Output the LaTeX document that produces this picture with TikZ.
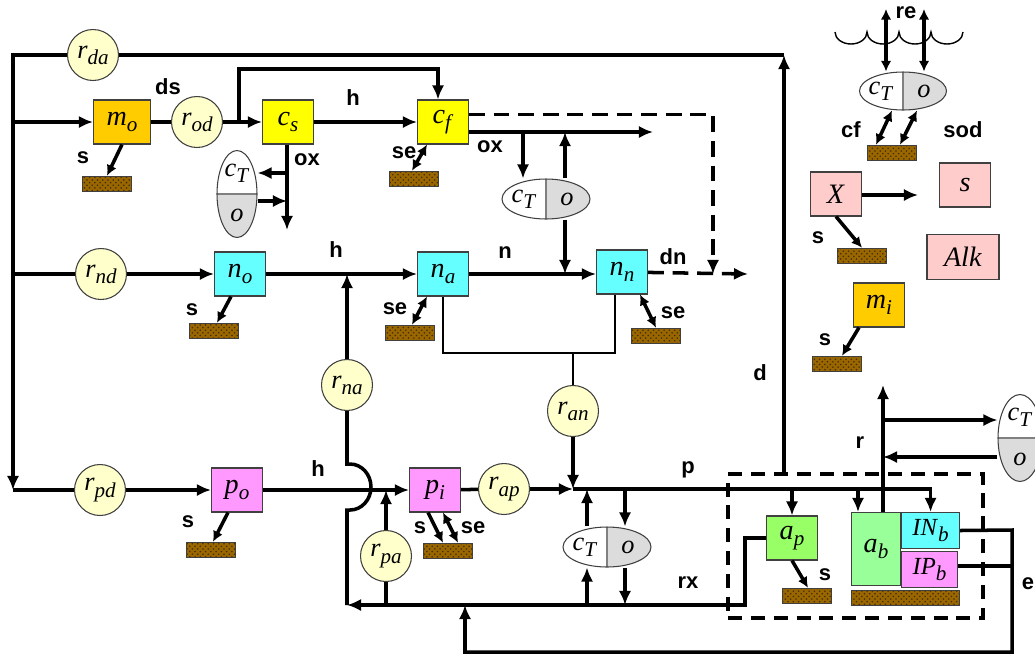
\documentclass[tikz,border=0pt]{standalone}
\usepackage{fontspec}
\setmainfont{Liberation Serif}
\newfontfamily\lblfont{Liberation Sans}
\usetikzlibrary{arrows.meta,positioning,shapes.geometric,patterns}
\definecolor{moorange}{RGB}{255,204,0}
\definecolor{cyellow}{RGB}{255,255,0}
\definecolor{ncyan}{RGB}{102,255,255}
\definecolor{ppink}{RGB}{255,153,255}
\definecolor{apgreen}{RGB}{153,255,102}
\definecolor{abgreen}{RGB}{153,255,153}
\definecolor{xrose}{RGB}{255,204,204}
\definecolor{ratefill}{RGB}{255,255,204}
\definecolor{sedbrown}{RGB}{153,102,0}
\definecolor{cellgray}{RGB}{220,220,220}
\newcommand\vsub[2]{\textit{#1}\raisebox{-0.5ex}{\fontsize{12}{13}\selectfont\textit{#2}}}

\begin{document}
\begin{tikzpicture}[
    x=0.02cm, y=-0.02cm,
    >={Latex[length=8pt,width=7pt]},
    flow/.style={line width=2pt},
    dashflow/.style={line width=2pt, dash pattern=on 9pt off 5pt},
    sedflux/.style={line width=2pt, -{Latex[length=6pt,width=6pt]}},
    seflux/.style={line width=2pt, {Latex[length=6pt,width=6pt]}-{Latex[length=6pt,width=6pt]}},
    box/.style={
        rectangle,
        draw=black!75,
        line width=0.6pt,
        minimum width=1.02cm,
        minimum height=0.88cm,
        inner sep=1pt,
        font=\fontsize{16}{18}\selectfont
    },
    rate/.style={circle, draw=black!75, line width=0.6pt, fill=ratefill,
        minimum size=1.02cm, inner sep=0pt, font=\fontsize{15}{17}\selectfont},
    sed/.style={rectangle, draw=black!75, line width=0.6pt, preaction={fill=sedbrown},
        pattern=crosshatch dots, pattern color=sedbrown!45!black,
        minimum width=0.98cm, minimum height=0.31cm, inner sep=0pt},
    lbl/.style={font=\lblfont\bfseries\fontsize{12.5}{14}\selectfont, inner sep=0pt},
    cellh/.style={ellipse, draw=black!75, line width=0.6pt, fill=white,
        minimum width=1.76cm, minimum height=0.8cm, inner sep=0pt,
        path picture={
            \fill[cellgray] (path picture bounding box.north) rectangle (path picture bounding box.south east);
            \draw[black!50, line width=0.7pt] (path picture bounding box.north) -- (path picture bounding box.south);}},
    cellv/.style={ellipse, draw=black!75, line width=0.6pt, fill=white,
        minimum width=0.8cm, minimum height=1.74cm, inner sep=0pt,
        path picture={
            \fill[cellgray] (path picture bounding box.west) rectangle (path picture bounding box.south east);
            \draw[black!50, line width=0.7pt] (path picture bounding box.west) -- (path picture bounding box.east);}},
    celltxt/.style={font=\fontsize{15}{17}\selectfont, inner sep=0pt}
]
\useasboundingbox (0,0) rectangle (1035,657);

% rates
\node[rate] (rda) at (93,55) {\vsub{r}{da}};
\node[rate] (rod) at (197,122) {\vsub{r}{od}};
\node[rate] (rnd) at (101,274) {\vsub{r}{nd}};
\node[rate] (rna) at (347,385) {\vsub{r}{na}};
\node[rate] (ran) at (573,411) {\vsub{r}{an}};
\node[rate] (rpd) at (100,490) {\vsub{r}{pd}};
\node[rate] (rap) at (504,489) {\vsub{r}{ap}};
\node[rate] (rpa) at (386,556) {\vsub{r}{pa}};

% pools
\node[box, fill=moorange, minimum width=1.14cm] (mo) at (122,122) {\vsub{m}{o}};
\node[box, fill=cyellow] (cs) at (288,122) {\vsub{c}{s}};
\node[box, fill=cyellow] (cf) at (443,122) {\vsub{c}{f}};
\node[box, fill=ncyan] (no) at (240,274) {\vsub{n}{o}};
\node[box, fill=ncyan] (na) at (443,274) {\vsub{n}{a}};
\node[box, fill=ncyan] (nn) at (622,272) {\vsub{n}{n}};
\node[box, fill=ppink] (po) at (237,490) {\vsub{p}{o}};
\node[box, fill=ppink] (pi) at (435,490) {\vsub{p}{i}};
\node[box, fill=apgreen] (ap) at (792,538) {\vsub{a}{p}};
\node[box, fill=abgreen, minimum width=0.98cm, minimum height=1.46cm] (ab) at (876,549) {\vsub{a}{b}};
\node[box, fill=ncyan, minimum width=1.16cm, minimum height=0.72cm, anchor=north west,
      font=\fontsize{14}{16}\selectfont] (INb) at (ab.north east) {\vsub{IN}{b}};
\node[box, fill=ppink, minimum width=1.12cm, minimum height=0.72cm, anchor=north west,
      font=\fontsize{14}{16}\selectfont] (IPb) at ([yshift=-1pt]INb.south west) {\vsub{IP}{b}};
\node[box, fill=xrose] (X) at (836,194) {\textit{X}};
\node[box, fill=xrose] (sbox) at (965,185) {\textit{s}};
\node[box, fill=xrose, minimum width=1.44cm, minimum height=0.9cm] (alk) at (963,257) {\textit{Alk}};
\node[box, fill=moorange] (mi) at (879,305) {\vsub{m}{i}};

% sediment
\node[sed] (sedmo) at (107,184) {};
\node[sed] (sedcf) at (414,179) {};
\node[sed] (sedno) at (214,331) {};
\node[sed] (sedna) at (410,333) {};
\node[sed] (sednn) at (656,336) {};
\node[sed] (sedpo) at (211,550) {};
\node[sed] (sedpi) at (448,551) {};
\node[sed] (sedap) at (807,596) {};
\node[sed, minimum width=2.16cm, anchor=north west] (sedab) at ([yshift=-2pt]ab.south west) {};
\node[sed] (sedtop) at (892,153) {};
\node[sed] (sedX) at (862,256) {};
\node[sed] (sedmi) at (837,364) {};

% cells
\node[cellv] (cellcs) at (237,194) {};
\node[celltxt] (cellcsT) at ([yshift=0.42cm]cellcs.center) {\vsub{c}{T}};
\node[celltxt] (cellcso) at ([yshift=-0.42cm]cellcs.center) {\textit{o}};
\node[cellh] (cellcf) at (546,199) {};
\node[celltxt] (cellcfT) at ([xshift=-0.44cm]cellcf.center) {\vsub{c}{T}};
\node[celltxt] (cellcfo) at ([xshift=0.42cm]cellcf.center) {\textit{o}};
\node[cellh] (cellp) at (607,547) {};
\node[celltxt] (cellpT) at ([xshift=-0.44cm]cellp.center) {\vsub{c}{T}};
\node[celltxt] (cellpo) at ([xshift=0.42cm]cellp.center) {\textit{o}};
\node[cellh, minimum width=1.74cm, minimum height=0.76cm] (celltop) at (903,91) {};
\node[celltxt] (celltopT) at ([xshift=-0.44cm]celltop.center) {\vsub{c}{T}};
\node[celltxt] (celltopo) at ([xshift=0.42cm]celltop.center) {\textit{o}};
\node[cellv, minimum width=0.88cm] (cellr) at (1020,438) {};
\node[celltxt] (cellrT) at ([yshift=0.42cm]cellr.center) {\vsub{c}{T}};
\node[celltxt] (cellro) at ([yshift=-0.42cm]cellr.center) {\textit{o}};

% bed frame
\node[draw, line width=1.8pt, dash pattern=on 8pt off 5pt, minimum width=5.1cm, minimum height=2.88cm,
      inner sep=0pt] (bed) at (855.5,546) {};

% labels
\node[lbl] (lds) at (168,87) {ds};
\node[lbl] (lh1) at (353,98) {h};
\node[lbl] (lox1) at (307,160) {ox};
\node[lbl] (lox2) at (490,147) {ox};
\node[lbl] (ls1) at (83,158) {s};
\node[lbl] (lse1) at (404,153) {se};
\node[lbl] (lh2) at (336,250) {h};
\node[lbl] (ln) at (505,253) {n};
\node[lbl] (ldn) at (673,257) {dn};
\node[lbl] (lse2) at (395,309) {se};
\node[lbl] (lse3) at (673,313) {se};
\node[lbl] (ls2) at (192,310) {s};
\node[lbl] (lh3) at (318,469) {h};
\node[lbl] (ls3) at (188,522) {s};
\node[lbl] (lp) at (688,470) {p};
\node[lbl] (ls4) at (420,528) {s};
\node[lbl] (lse4) at (473,528) {se};
\node[lbl] (lrx) at (688,583) {rx};
\node[lbl] (ld) at (760,373) {d};
\node[lbl] (lr) at (860,443) {r};
\node[lbl] (le) at (1028,584) {e};
\node[lbl] (ls5) at (825,575) {s};
\node[lbl] (lre) at (906,13) {re};
\node[lbl] (lcf) at (851,130) {cf};
\node[lbl] (lsod) at (963,130) {sod};
\node[lbl] (ls6) at (818,238) {s};
\node[lbl] (ls7) at (825,340) {s};

% dissolved loop
\coordinate (dtop) at (784,55);
\coordinate (dbot) at (bed.north -| dtop);
\coordinate (tl) at (13,55);
\coordinate (bl) at (13,490);
\draw[flow,->] (dbot) -- (dtop);
\draw[flow] (dtop) -- (rda);
\draw[flow,->] (rda) -- (tl) -- (bl);
\draw[flow,->] (mo.west -| tl) -- (mo);
\draw[flow] (rnd.west -| tl) -- (rnd);
\draw[flow] (bl) -- (rpd);

% carbon
\coordinate (jcs) at (239,122);
\coordinate (dnj) at (713,274);
\coordinate (dnend) at (748,274);
\coordinate (oxend) at (653,132);
\coordinate (oxa) at (523,132);
\coordinate (oxb) at (565,132);
\coordinate (csox) at (287,230);
\coordinate (csa) at (287,173);
\coordinate (csb) at (287,201);
\draw[flow] (mo) -- (rod);
\draw[flow,->] (rod) -- (cs);
\draw[flow,->] (jcs) -- ++(0,-53) -| ([xshift=-0.1cm]cf.north);
\draw[flow,->] (cs) -- (cf);
\draw[dashflow,->] ([yshift=-0.3cm]cf.north east) -| (dnj);
\draw[dashflow,->] (nn) -- (dnend);
\draw[flow,->] (cf.east |- oxend) -- (oxend);
\draw[flow,->] (oxa) -- (oxa |- cellcf.north);
\draw[flow,->] (oxb |- cellcf.north) -- (oxb);
\draw[flow,->] (oxb |- cellcf.south) -- (oxb |- na);
\draw[flow,->] (cs.south -| csox) -- (csox);
\draw[flow,->] (csa) -- (csa -| cellcs.east);
\draw[flow,->] (csb -| cellcs.east) -- (csb);

% nitrogen
\coordinate (ranj) at (573,353);
\draw[flow,->] (rnd) -- (no);
\draw[flow,->] (no) -- (na);
\draw[flow,->] (na) -- (na -| nn.west);
\draw[flow,->] (rna) -- (rna |- na);
\draw[line width=1.5pt] (na.south) |- (ranj) -| ([xshift=-0.14cm]nn.south);
\draw[line width=1.5pt] (ranj) -- (ran);

% phosphorus
\coordinate (pj) at (573,489);
\coordinate (abin) at (858,489);
\coordinate (pc1) at (587,489);
\coordinate (pc2) at (625,489);
\coordinate (pc3) at (587,605);
\coordinate (pc4) at (625,605);
\coordinate (rxr) at (745,605);
\coordinate (rxl) at (347,605);
\draw[flow,->] (rpd) -- (po);
\draw[flow,->] (po) -- (pi);
\draw[flow] (pi) -- (rap);
\draw[flow,->] (rap) -- (pj);
\draw[flow,->] (ran) -- (pj);
\draw[flow,->] (pj) -| (INb.north);
\draw[flow,->] (ap.north |- pj) -- (ap.north);
\draw[flow,->] (abin) -- (abin |- ab.north);
\draw[flow,->] (rpa) -- (rpa |- pi);
\draw[flow] (rpa) -- (rpa |- rxl);
\draw[flow,->] (cellp.north -| pc1) -- (pc1);
\draw[flow,->] (pc2) -- (cellp.north -| pc2);
\draw[flow,->] (pc3) -- (cellp.south -| pc3);
\draw[flow,->] (cellp.south -| pc4) -- (pc4);
\draw[flow,->] (ap.west) -| (rxr) -- (rxl);
\draw[flow] (rxl) -- ++(0,-95) -- ++(3,0)
    arc[start angle=-90, end angle=90, x radius=0.42cm, y radius=0.46cm] -- ++(-3,0) -- (rna);

% bed exchange
\coordinate (eR1) at (1012,530);
\coordinate (eR2) at (1012,566);
\coordinate (ebot) at (1012,652);
\coordinate (ej) at (465,605);
\coordinate (rtop) at (883,385);
\coordinate (ra) at (883,420);
\coordinate (rb) at (883,457);
\draw[flow] (IPb.east |- eR2) -- (eR2);
\draw[flow,->] (INb.east) -- (eR1) -- (ebot) -| (ej);
\draw[flow,->] (rtop |- ab.north) -- (rtop);
\draw[flow,->] (ra) -- (ra -| cellr.west);
\draw[flow,->] (rb -| cellr.west) -- (rb);

% sediment fluxes
\draw[sedflux] (mo.south) -- (sedmo.north);
\draw[seflux] ([xshift=-0.32cm]cf.south) -- ([xshift=-0.04cm]sedcf.north);
\draw[sedflux] ([xshift=-0.18cm]no.south) -- ([xshift=0.06cm]sedno.north);
\draw[seflux] ([xshift=-0.32cm]na.south) -- ([xshift=0.04cm]sedna.north);
\draw[seflux] ([xshift=0.36cm]nn.south) -- (sednn.north);
\draw[sedflux] ([xshift=-0.18cm]po.south) -- ([xshift=0.04cm]sedpo.north);
\draw[sedflux] ([xshift=-0.14cm]pi.south) -- ([xshift=-0.1cm]sedpi.north);
\draw[seflux] ([xshift=0.16cm]pi.south) -- ([xshift=0.2cm]sedpi.north);
\draw[sedflux] (ap.south) -- ([xshift=0.02cm]sedap.north);
\draw[sedflux] (X.south) -- (sedX.north);
\draw[sedflux] ([xshift=-0.4cm]mi.south) -- ([xshift=0.1cm]sedmi.north);

% water surface and reaeration
\coordinate (re1) at (886,9);
\coordinate (re2) at (924,9);
\draw[line width=0.8pt] (835,32) arc[start angle=180, end angle=360, x radius=0.32cm, y radius=0.24cm]
    arc[start angle=180, end angle=360, x radius=0.32cm, y radius=0.24cm]
    arc[start angle=180, end angle=360, x radius=0.32cm, y radius=0.24cm]
    arc[start angle=180, end angle=360, x radius=0.32cm, y radius=0.24cm];
\draw[seflux] (re1) -- (re1 |- celltop.north);
\draw[seflux] (re2) -- (re2 |- celltop.north);
\draw[seflux] ([xshift=-0.22cm]celltop.south) -- ([xshift=-0.32cm]sedtop.north);
\draw[seflux] ([xshift=0.28cm]celltop.south) -- ([xshift=0.16cm]sedtop.north);
\coordinate (xend) at (918,195);
\draw[flow,->] (X.east |- xend) -- (xend);
\end{tikzpicture}
\end{document}
